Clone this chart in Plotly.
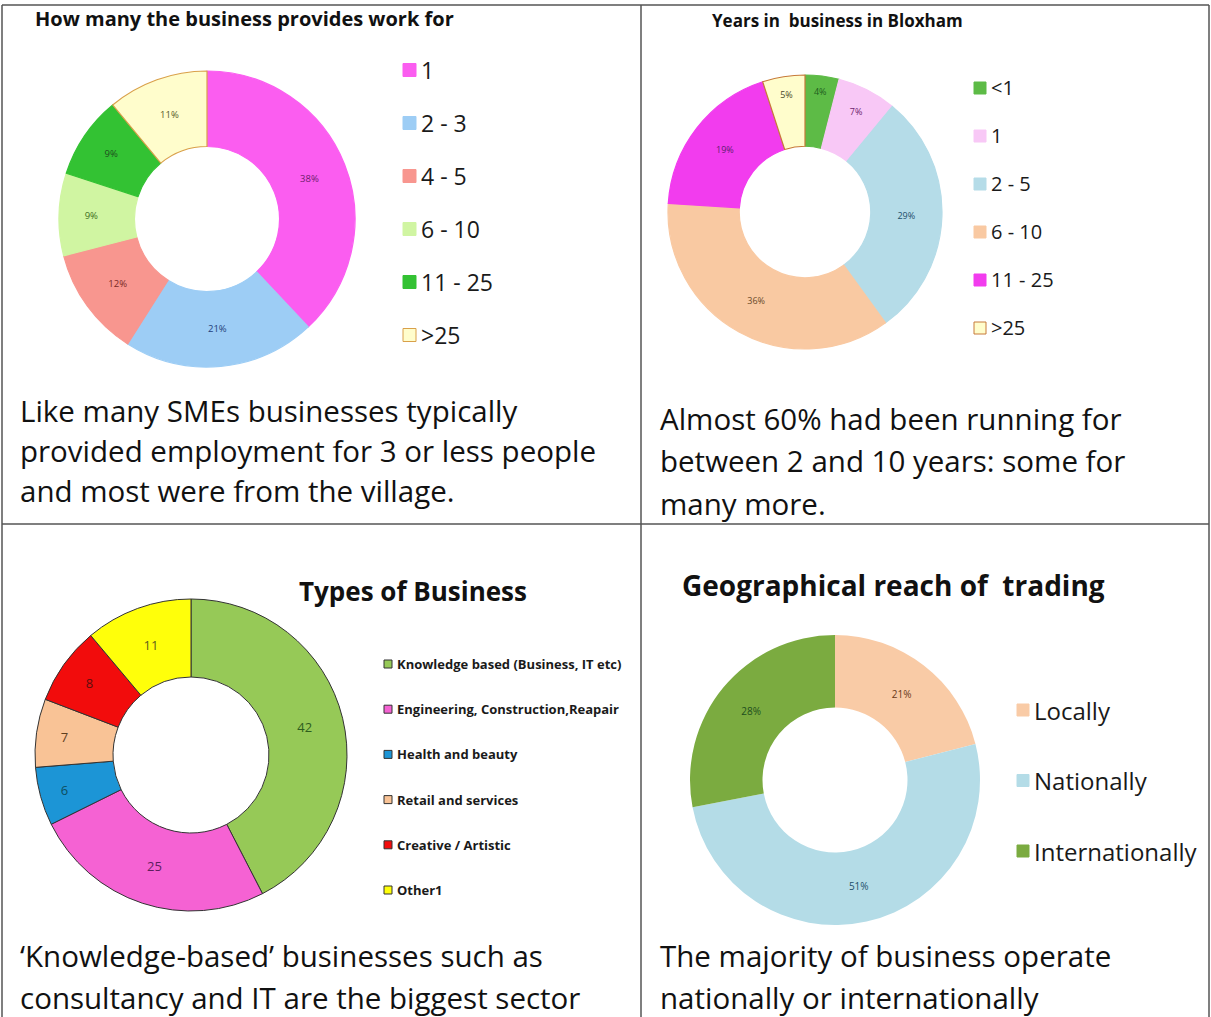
import plotly.graph_objects as go

# ---- data ----
staff_labels = ["1", "2 - 3", "4 - 5", "6 - 10", "11 - 25", ">25"]
staff_pct = [38, 21, 12, 9, 9, 11]
staff_colors = ["#FB5DF0", "#9DCDF5", "#F8968F", "#D0F5A2", "#33C233", "#FFFDCC"]
staff_text = ["#6E1E6E", "#1F3F7A", "#7A2A25", "#3E6E1E", "#1E4E1E", "#5A5A2A"]

years_labels = ["<1", "1", "2 - 5", "6 - 10", "11 - 25", ">25"]
years_pct = [4, 7, 29, 36, 19, 5]
years_colors = ["#5DBB46", "#F8C8F6", "#B5DCE8", "#F9C9A2", "#F23CEE", "#FFFDCC"]
years_text = ["#1E5E1E", "#6E1E6E", "#1F4F6A", "#6A4A2A", "#5E1E6E", "#4A4A2A"]

types_labels = ["Knowledge based (Business, IT etc)", "Engineering, Construction,Reapair",
                "Health and beauty", "Retail and services", "Creative / Artistic", "Other1"]
types_count = [42, 25, 6, 7, 8, 11]
types_colors = ["#96C957", "#F562D3", "#1C95D6", "#F9C396", "#F20C0C", "#FFFF0A"]
types_text = ["#2E5E1E", "#5E1E5E", "#0E4E5E", "#5E3E1E", "#5E0E0E", "#5E5E1E"]

reach_labels = ["Locally", "Nationally", "Internationally"]
reach_pct = [21, 51, 28]
reach_colors = ["#F9CBA6", "#B4DCE7", "#7BAB40"]
reach_text = ["#6A3A1A", "#1F4F6A", "#1E4E1E"]

titles = ["How many the business provides work for", "Years in  business in Bloxham",
          "Types of Business", "Geographical reach of  trading"]
captions = [
    ["Like many SMEs businesses typically", "provided employment for 3 or less people",
     "and most were from the village."],
    ["Almost 60% had been running for", "between 2 and 10 years: some for", "many more."],
    ["\u2018Knowledge-based\u2019 businesses such as", "consultancy and IT are the biggest sector"],
    ["The majority of business operate", "nationally or internationally"],
]

W, H = 1211, 1017
FONT = "Open Sans"


def px(x):
    return x / W


def py(y):
    return 1 - y / H


def dom(cx, cy, r):
    return dict(x=[px(cx - r), px(cx + r)], y=[py(cy + r), py(cy - r)])


fig = go.Figure()

fig.add_trace(go.Pie(
    labels=staff_labels, values=staff_pct, hole=0.49, sort=False, direction="clockwise",
    domain=dom(207, 219, 148), texttemplate="%{value}%", textposition="inside",
    insidetextorientation="horizontal",
    marker=dict(colors=staff_colors,
                line=dict(color=staff_colors[:-1] + ["#D9A04A"], width=1.2)),
    textfont=dict(size=9.5, color=staff_text, family=FONT),
))
fig.add_trace(go.Pie(
    labels=years_labels, values=years_pct, hole=0.48, sort=False, direction="clockwise",
    domain=dom(805, 212, 137), texttemplate="%{value}%", textposition="inside",
    insidetextorientation="horizontal",
    marker=dict(colors=years_colors,
                line=dict(color=years_colors[:-1] + ["#C77A3A"], width=1.2)),
    textfont=dict(size=9, color=years_text, family=FONT),
))
fig.add_trace(go.Pie(
    labels=types_labels, values=types_count, hole=0.5, sort=False, direction="clockwise",
    domain=dom(191, 755, 156), texttemplate="%{value}", textposition="inside",
    insidetextorientation="horizontal",
    marker=dict(colors=types_colors, line=dict(color="#333333", width=1)),
    textfont=dict(size=13, color=types_text, family=FONT),
))
fig.add_trace(go.Pie(
    labels=reach_labels, values=reach_pct, hole=0.5, sort=False, direction="clockwise",
    domain=dom(835, 780, 145), texttemplate="%{value}%", textposition="inside",
    insidetextorientation="horizontal",
    marker=dict(colors=reach_colors, line=dict(width=0)),
    textfont=dict(size=10, color=reach_text, family=FONT),
))

shapes = []
annotations = []

# legends drawn next to each donut
legend_specs = [
    (staff_labels, staff_colors, 403, 70, 53, 13, 23, False, staff_colors[:-1] + ["#D9A04A"]),
    (years_labels, years_colors, 974, 88, 48, 12, 20, False, years_colors[:-1] + ["#C77A3A"]),
    (types_labels, types_colors, 384, 664, 45.2, 8, 13, True, ["#333333"] * 6),
    (reach_labels, reach_colors, 1017, 710, 70.5, 12, 24, False, reach_colors),
]
for labels, colors, x0, y0, gap, sq, fs, bold, lines in legend_specs:
    for i, (lab, col) in enumerate(zip(labels, colors)):
        yc = y0 + i * gap
        shapes.append(dict(type="rect", xref="paper", yref="paper",
                           x0=px(x0), x1=px(x0 + sq), y0=py(yc + sq / 2), y1=py(yc - sq / 2),
                           fillcolor=col, line=dict(color=lines[i], width=1)))
        annotations.append(dict(xref="paper", yref="paper", x=px(x0 + sq + 3), y=py(yc),
                                xanchor="left", yanchor="middle", showarrow=False,
                                text=f"<b>{lab}</b>" if bold else lab,
                                font=dict(family=FONT, size=fs, color="#1A1A1A")))

# chart titles
title_pos = [(33, 18, "left", 20), (710, 21, "left", 17), (413, 591, "center", 26), (680, 585, "left", 28)]
for t, (x, y, anc, fs) in zip(titles, title_pos):
    annotations.append(dict(xref="paper", yref="paper", x=px(x), y=py(y), xanchor=anc,
                            yanchor="middle", showarrow=False, text=f"<b>{t}</b>",
                            font=dict(family=FONT, size=fs, color="#111111")))

# captions under each chart
cap_pos = [(18, 410, 40.5), (658, 418, 42.5), (18, 955, 42), (658, 955, 42)]
for lines_, (x, y, gap) in zip(captions, cap_pos):
    for i, line in enumerate(lines_):
        annotations.append(dict(xref="paper", yref="paper", x=px(x), y=py(y + i * gap),
                                xanchor="left", yanchor="middle", showarrow=False, text=line,
                                font=dict(family=FONT, size=29.5, color="#111111")))

# table grid
grid = "#555555"
for x0, y0, x1, y1 in [(2, 5, 1209, 5), (2, 5, 2, 1017), (1209, 5, 1209, 1017),
                       (641, 5, 641, 1017), (2, 524, 1209, 524)]:
    shapes.append(dict(type="line", xref="paper", yref="paper", x0=px(x0), y0=py(y0),
                       x1=px(x1), y1=py(y1), line=dict(color=grid, width=1.5)))

fig.update_layout(
    width=W, height=H, margin=dict(l=0, r=0, t=0, b=0),
    paper_bgcolor="white", plot_bgcolor="white", showlegend=False,
    shapes=shapes, annotations=annotations,
)

fig.write_html("out.html", config={"displayModeBar": False},
               post_script="document.body.style.margin = '0';")
